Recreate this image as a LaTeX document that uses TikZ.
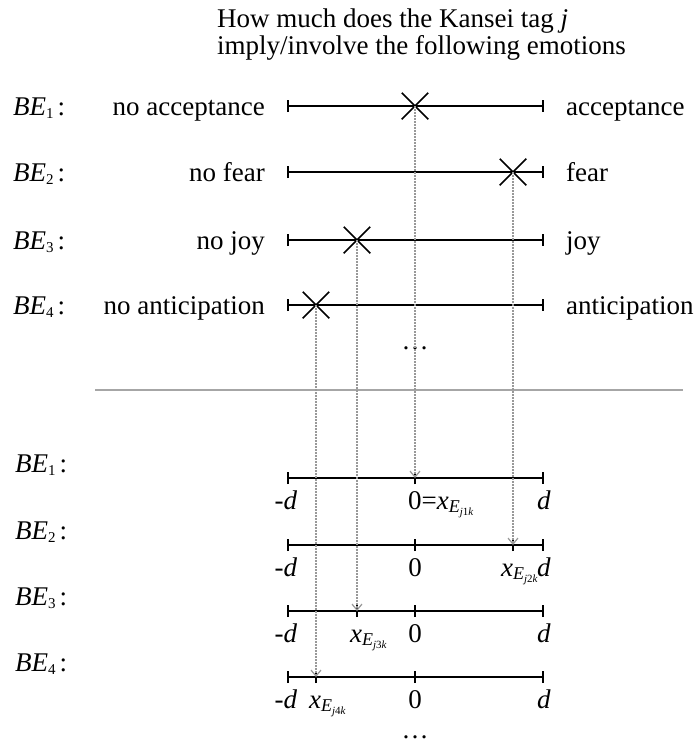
\documentclass[tikz,border=0pt]{standalone}
\usepackage{fontspec}
\setmainfont{Liberation Serif}
\usetikzlibrary{arrows.meta,shapes.misc}
\tikzset{
  txt/.style={inner sep=0pt, font=\fontsize{27}{31}\selectfont},
  scaleline/.style={line width=1.6pt, black, {Bar[width=12pt,line width=1.6pt]}-{Bar[width=12pt,line width=1.6pt]}},
  midtick/.style={line width=1.6pt, black},
  crossmark/.style={cross out, draw=black, line width=1.5pt, minimum size=25pt, inner sep=0pt},
  dotline/.style={draw=gray!80, line width=1.5pt, dash pattern=on 1.5pt off 1.5pt, -{Straight Barb[length=6pt,width=10pt,line width=1.2pt]}},
  sepline/.style={draw=gray!70, line width=1.5pt},
}
\newcommand{\xE}[1]{\textit{x}\raisebox{-0.3ex}{\fontsize{18}{18}\selectfont\textit{E}\raisebox{-0.35ex}{\fontsize{11}{11}\selectfont\textit{j}#1\textit{k}}}}
\newcommand{\BE}[1]{\textit{BE}\raisebox{-0.25ex}{\fontsize{15}{15}\selectfont #1}\hspace{4pt}:}
\begin{document}
\begin{tikzpicture}[x=1pt,y=-1pt]
\useasboundingbox (0,0) rectangle (700,745);
% title
\node[txt, anchor=base west] (t1) at (217,27) {How much does the Kansei tag \textit{j}};
\node[txt, anchor=base west] (t2) at (217,54) {imply/involve the following emotions};
% top scales
\foreach \i/\y/\l/\r/\cx in {1/106/no acceptance/acceptance/415, 2/172/no fear/fear/513, 3/240/no joy/joy/357, 4/305/no anticipation/anticipation/316}{
  \node[txt, anchor=base west] (bt\i) at (13,\y+9) {\BE{\i}};
  \node[txt, anchor=base east] (lt\i) at (265,\y+9) {\l};
  \node[txt, anchor=base west] (rt\i) at (566,\y+9) {\r};
  \coordinate (a\i) at (287,\y);
  \coordinate (b\i) at (544,\y);
  \draw[scaleline] (a\i) -- (b\i);
  \node[crossmark] (c\i) at (\cx,\y) {};
}
\node[txt, anchor=base] (dots1) at (415,349) {…};
% separator
\coordinate (s1) at (95,390);
\coordinate (s2) at (683,390);
\draw[sepline] (s1) -- (s2);
% bottom scales
\foreach \i/\y/\cx in {1/478/415, 2/545/513, 3/611/357, 4/677/316}{
  \node[txt, anchor=base west] (bb\i) at (15,\y-6) {\BE{\i}};
  \coordinate (p\i) at (287,\y);
  \coordinate (q\i) at (544,\y);
  \coordinate (m\i) at (415,\y);
  \coordinate (h\i) at (\cx,\y);
  \draw[scaleline] (p\i) -- (q\i);
  \draw[midtick] ([yshift=-6pt]m\i) -- ([yshift=6pt]m\i);
  \draw[midtick] ([yshift=-6pt]h\i) -- ([yshift=6pt]h\i);
  \node[txt, anchor=base] (md\i) at (286,\y+31) {-\textit{d}};
  \node[txt, anchor=base] (pd\i) at (544,\y+31) {\textit{d}};
  \draw[dotline] (c\i.center) -- (h\i);
}
\node[txt, anchor=base west] (z1) at (408,509) {0=\xE{1}};
\node[txt, anchor=base] (z2) at (415,576) {0};
\node[txt, anchor=base west] (x2) at (501,576) {\xE{2}};
\node[txt, anchor=base] (z3) at (415,642) {0};
\node[txt, anchor=base west] (x3) at (350,642) {\xE{3}};
\node[txt, anchor=base] (z4) at (415,708) {0};
\node[txt, anchor=base west] (x4) at (309,708) {\xE{4}};
\node[txt, anchor=base] (dots2) at (415,738) {…};
\end{tikzpicture}
\end{document}
